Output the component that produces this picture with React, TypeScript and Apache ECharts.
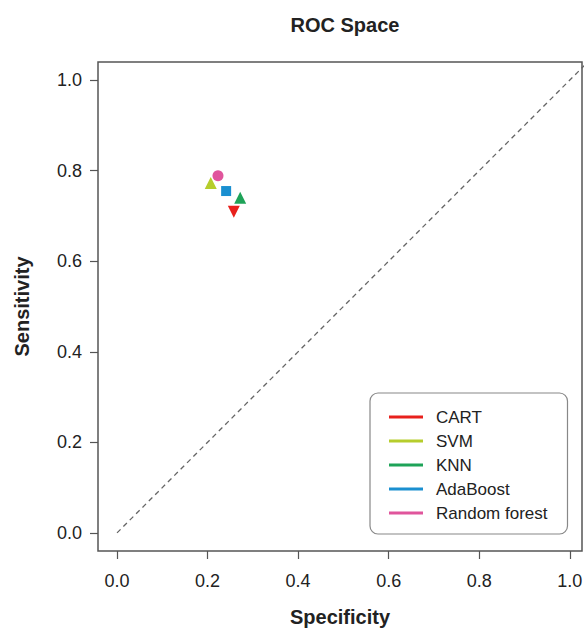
import React, { useEffect, useRef } from "react";
import * as echarts from "echarts";

const methods = ["CART", "SVM", "KNN", "AdaBoost", "Random forest"];
const specificity = [0.258, 0.207, 0.272, 0.241, 0.223];
const sensitivity = [0.709, 0.773, 0.740, 0.755, 0.789];
const colors = ["#e8201c", "#b6cd2c", "#1ea358", "#1a8fd0", "#e0559c"];
const symbols = ["triangle", "triangle", "triangle", "rect", "circle"];
const rotations = [180, 0, 0, 0, 0];
const sizes = [12, 12, 12, 10, 11];
const tickValues = [0, 0.2, 0.4, 0.6, 0.8, 1.0];
const diagonal = [
  [0, 0],
  [1.05, 1.05],
];

const FONT = "'Liberation Sans', Arial, Helvetica, sans-serif";

export default function App() {
  const ref = useRef<HTMLDivElement>(null);
  useEffect(() => {
    if (!ref.current) return;
    const chart = echarts.init(ref.current, null, { renderer: "svg" });
    const scatterSeries = methods.map((m, i) => ({
      name: m,
      type: "scatter",
      symbol: symbols[i],
      symbolRotate: rotations[i],
      symbolSize: sizes[i],
      itemStyle: { color: colors[i], opacity: 1 },
      data: [[specificity[i], sensitivity[i]]],
      z: 5,
    }));
    const axisCommon = {
      type: "value",
      splitLine: { show: false },
      axisLine: { show: false, onZero: false },
      axisTick: {
        show: true,
        inside: false,
        length: 8,
        customValues: tickValues,
        lineStyle: { color: "#555", width: 1.2 },
      },
      axisLabel: {
        customValues: tickValues,
        formatter: (v: number) => v.toFixed(1),
        fontSize: 18,
        color: "#222",
        fontFamily: FONT,
      },
      nameLocation: "middle",
      nameTextStyle: {
        fontSize: 20,
        fontWeight: "bold",
        color: "#222",
        fontFamily: FONT,
      },
    };
    chart.setOption({
      animation: false,
      backgroundColor: "#fff",
      title: {
        text: "ROC Space",
        left: 340,
        top: 10,
        textAlign: "center",
        textStyle: {
          fontSize: 20,
          fontWeight: "bold",
          color: "#222",
          fontFamily: FONT,
        },
      },
      grid: {
        left: 98,
        right: 2,
        top: 62,
        bottom: 79,
        show: true,
        containLabel: false,
        outerBoundsMode: "none",
        borderColor: "#555",
        borderWidth: 1.5,
        backgroundColor: "transparent",
      },
      xAxis: {
        ...axisCommon,
        min: -0.042,
        max: 1.027,
        name: "Specificity",
        nameGap: 56,
        axisLabel: { ...axisCommon.axisLabel, margin: 21 },
      },
      yAxis: {
        ...axisCommon,
        min: -0.04,
        max: 1.04,
        name: "Sensitivity",
        nameGap: 66,
        nameRotate: 90,
        axisLabel: { ...axisCommon.axisLabel, margin: 16 },
      },
      legend: {
        orient: "vertical",
        left: 370,
        top: 393,
        data: methods,
        icon: "rect",
        itemWidth: 34,
        itemHeight: 3,
        itemGap: 4,
        padding: [14, 20, 11, 19],
        borderColor: "#888",
        borderWidth: 1.2,
        borderRadius: 8,
        backgroundColor: "#fff",
        textStyle: {
          fontSize: 17,
          lineHeight: 20,
          color: "#222",
          fontFamily: FONT,
          padding: [0, 0, 0, 8],
        },
        selectedMode: false,
      },
      series: [
        {
          name: "diag",
          type: "line",
          data: diagonal,
          symbol: "none",
          silent: true,
          clip: true,
          lineStyle: { color: "#666", width: 1.3, type: [5, 4] },
          z: 1,
        },
        ...scatterSeries,
      ],
    });
    return () => chart.dispose();
  }, []);
  return (
    <div
      ref={ref}
      style={{ position: "fixed", left: 0, top: 0, width: 584, height: 630 }}
    />
  );
}
